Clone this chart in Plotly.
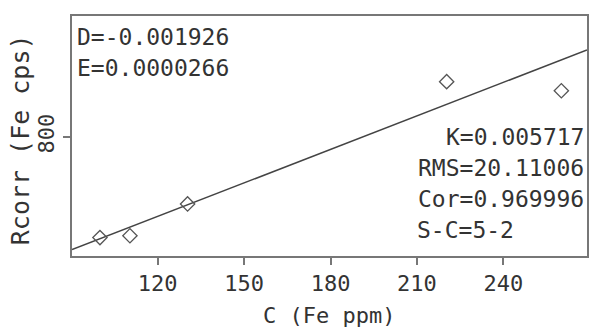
import plotly.graph_objects as go

# Data
conc = [100.0, 110.4, 130.4, 220.3, 260.1]          # C (Fe ppm)
rcorr = [423, 430, 549, 1007, 973]                   # Rcorr (Fe cps)
fit_c = [90.3, 269.0]
fit_r = [378, 1126]
x_ticks = [120, 150, 180, 210, 240]
y_ticks = [800]
stats_left = ["D=-0.001926", "E=0.0000266"]
stats_right = ["K=0.005717", "RMS=20.11006", "Cor=0.969996"]
stats_sc = "S-C=5-2"

FONT = "DejaVu Sans Mono"
GRAY = "#555555"
TXT = "#333333"

L, R, T, B = 72, 589, 16, 256
W, H = 589, 333
pw, ph = R - L, B - T

def px(x):
    return (x - L) / pw

def py(y):
    return (B - y) / ph

fig = go.Figure()
fig.add_trace(go.Scatter(x=fit_c, y=fit_r, mode="lines",
                         line=dict(color="#444444", width=1.6), showlegend=False))
fig.add_trace(go.Scatter(x=conc, y=rcorr, mode="markers",
                         marker=dict(symbol="diamond-open", size=11, color="#555555",
                                     line=dict(width=1.3)), showlegend=False))

fig.update_layout(
    width=W, height=H,
    margin=dict(l=L, r=W - R, t=T, b=H - B),
    paper_bgcolor="white", plot_bgcolor="white",
    font=dict(family=FONT, size=22, color=TXT),
)
fig.update_xaxes(range=[90.3, 269.0], tickvals=x_ticks, showgrid=False, zeroline=False,
                 showline=True, linecolor="#777777", linewidth=2, mirror=True,
                 ticks="outside", ticklen=7, tickcolor="#777777", tickwidth=1.5,
                 tickfont=dict(family=FONT, size=22, color=TXT))
fig.update_yaxes(range=[354, 1253], tickvals=y_ticks, showgrid=False, zeroline=False,
                 showline=True, linecolor="#777777", linewidth=2, mirror=True,
                 ticks="outside", ticklen=7, tickcolor="#777777", tickwidth=1.5,
                 tickangle=-90, tickfont=dict(family=FONT, size=22, color=TXT))

ann = []
for i, t in enumerate(stats_left):
    ann.append(dict(text=t, xref="paper", yref="paper", x=px(75), y=py(22 + 31 * i),
                    xanchor="left", yanchor="top", showarrow=False,
                    font=dict(family=FONT, size=23, color=TXT)))
for i, t in enumerate(stats_right):
    ann.append(dict(text=t, xref="paper", yref="paper", x=px(588), y=py(122 + 31 * i),
                    xanchor="right", yanchor="top", showarrow=False,
                    font=dict(family=FONT, size=23, color=TXT)))
ann.append(dict(text=stats_sc, xref="paper", yref="paper", x=px(416), y=py(122 + 31 * 3),
                xanchor="left", yanchor="top", showarrow=False,
                font=dict(family=FONT, size=23, color=TXT)))
ann.append(dict(text="C (Fe ppm)", xref="paper", yref="paper", x=px(330), y=py(315),
                xanchor="center", yanchor="middle", showarrow=False,
                font=dict(family=FONT, size=22, color=TXT)))
ann.append(dict(text="Rcorr (Fe cps)", xref="paper", yref="paper", x=px(20), y=py(140),
                xanchor="center", yanchor="middle", showarrow=False, textangle=-90,
                font=dict(family=FONT, size=25, color=TXT)))
fig.update_layout(annotations=ann)

fig.write_html("out.html")
